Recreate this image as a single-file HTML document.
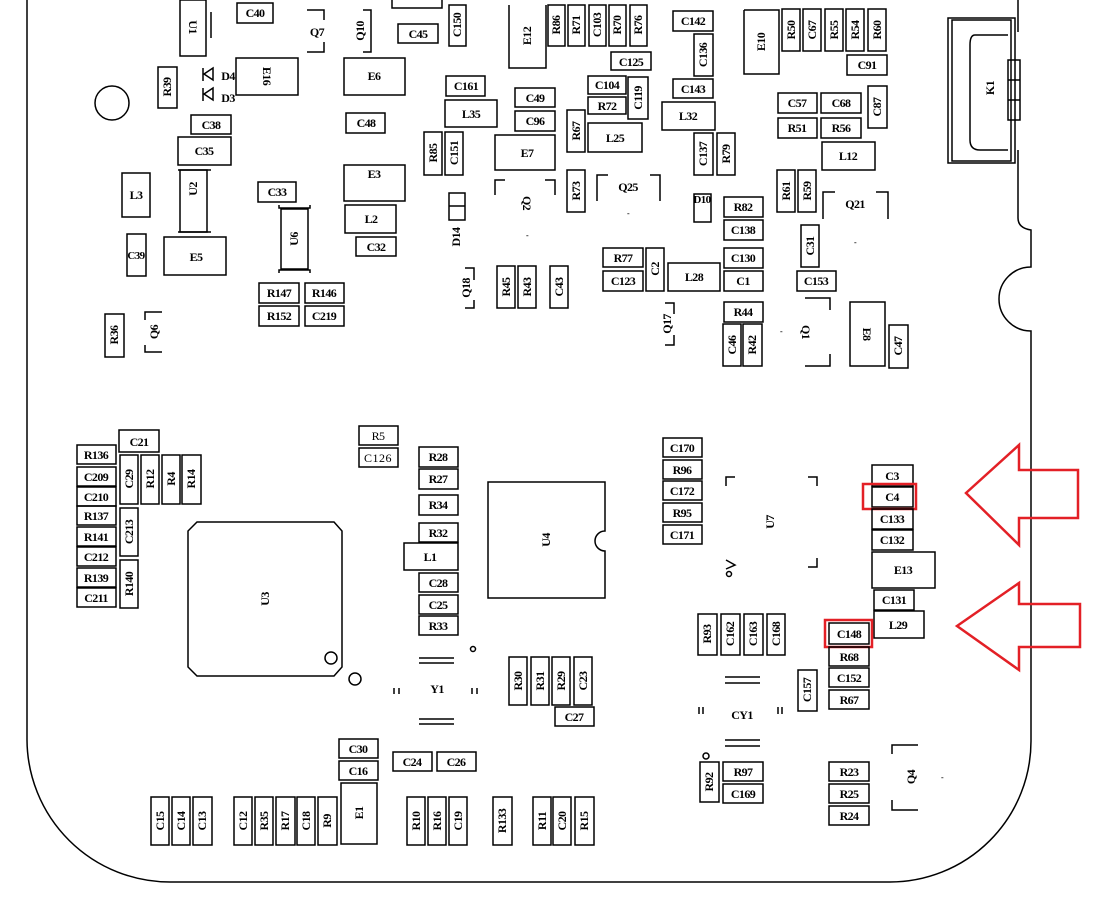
<!DOCTYPE html>
<html><head><meta charset="utf-8"><style>
html,body{margin:0;padding:0;background:#fff}
svg{display:block}
rect,path,circle,line,polyline{fill:none;stroke:#000;stroke-width:1.5}
text{font-family:"Liberation Serif",serif;font-size:12px;font-weight:bold;text-anchor:middle;fill:#000;letter-spacing:-0.6px}
.r{stroke:#e32026;stroke-width:2.5}
</style></head><body>
<svg width="1105" height="907" viewBox="0 0 1105 907" xmlns="http://www.w3.org/2000/svg">
<path d="M27 0 V740 A143 143 0 0 0 170 882 H890 A141 141 0 0 0 1031 741 V331 A32 32 0 0 1 1031 267 V230 Q1018 228 1018 218 V150"/>
<path d="M1018 0 V32"/>
<rect x="948" y="18" width="67" height="145"/>
<rect x="952" y="20" width="59" height="141"/>
<path d="M975 35 Q970 35 970 45 V140 Q970 150 980 150 M975 35 H1008 M980 150 H1008"/>
<rect x="1008" y="60" width="12" height="60"/>
<line x1="1008" y1="80" x2="1020" y2="80"/><line x1="1008" y1="100" x2="1020" y2="100"/>
<text transform="translate(990,88) rotate(-90)" y="4">K1</text>

<rect x="180" y="0" width="26" height="56"/><line x1="211" y1="12" x2="211" y2="38"/>
<text transform="translate(193,27) rotate(90)" y="4">U1</text>
<rect x="237" y="3" width="36" height="20"/><text x="255" y="17">C40</text>
<path d="M307 10 H324 V20 M324 42 V52 H307"/><text x="317" y="36">Q7</text>
<path d="M363 10 H371 V52 H363"/><text transform="translate(360,31) rotate(-90)" y="4">Q10</text>
<path d="M392 0 V8 H442 V0"/>
<rect x="398" y="24" width="40" height="19"/><text x="418" y="38">C45</text>
<rect x="449" y="5" width="17" height="41"/><text transform="translate(457,25) rotate(-90)" y="4">C150</text>
<path d="M509 5 V68 H546 V5"/><text transform="translate(527,36) rotate(-90)" y="4">E12</text>
<rect x="548" y="5" width="17" height="41"/><text transform="translate(556,25) rotate(-90)" y="4">R86</text>
<rect x="568" y="5" width="17" height="41"/><text transform="translate(576,25) rotate(-90)" y="4">R71</text>
<rect x="589" y="5" width="17" height="41"/><text transform="translate(597,25) rotate(-90)" y="4">C103</text>
<rect x="609" y="5" width="17" height="41"/><text transform="translate(617,25) rotate(-90)" y="4">R70</text>
<rect x="630" y="5" width="17" height="41"/><text transform="translate(638,25) rotate(-90)" y="4">R76</text>
<rect x="673" y="11" width="40" height="20"/><text x="693" y="25">C142</text>
<rect x="694" y="34" width="19" height="42"/><text transform="translate(703,55) rotate(-90)" y="4">C136</text>
<path d="M744 10 V74 H779 V10 H744"/><text transform="translate(761,42) rotate(-90)" y="4">E10</text>
<rect x="782" y="9" width="18" height="42"/><text transform="translate(791,30) rotate(-90)" y="4">R50</text>
<rect x="803" y="9" width="18" height="42"/><text transform="translate(812,30) rotate(-90)" y="4">C67</text>
<rect x="825" y="9" width="18" height="42"/><text transform="translate(834,30) rotate(-90)" y="4">R55</text>
<rect x="846" y="9" width="18" height="42"/><text transform="translate(855,30) rotate(-90)" y="4">R54</text>
<rect x="868" y="9" width="18" height="42"/><text transform="translate(877,30) rotate(-90)" y="4">R60</text>
<rect x="847" y="55" width="40" height="20"/><text x="867" y="69">C91</text>

<rect x="158" y="67" width="19" height="41"/><text transform="translate(167,87) rotate(-90)" y="4">R39</text>
<path d="M203 68 V81 M213 68 L204 74 L213 80 Z"/><text x="228" y="80">D4</text>
<path d="M203 88 V101 M213 88 L204 94 L213 100 Z"/><text x="228" y="102">D3</text>
<rect x="236" y="58" width="62" height="37"/><text transform="translate(267,76) rotate(90)" y="4">E16</text>
<rect x="344" y="58" width="61" height="37"/><text x="374" y="80">E6</text>
<circle cx="112" cy="103" r="17"/>
<rect x="191" y="115" width="40" height="19"/><text x="211" y="129">C38</text>
<rect x="178" y="137" width="53" height="28"/><text x="204" y="155">C35</text>
<rect x="346" y="113" width="39" height="20"/><text x="366" y="127">C48</text>
<rect x="446" y="76" width="39" height="20"/><text x="466" y="90">C161</text>
<rect x="445" y="100" width="52" height="27"/><text x="471" y="118">L35</text>
<rect x="515" y="88" width="40" height="19"/><text x="535" y="102">C49</text>
<rect x="515" y="111" width="40" height="20"/><text x="535" y="125">C96</text>
<rect x="424" y="132" width="18" height="43"/><text transform="translate(433,153) rotate(-90)" y="4">R85</text>
<rect x="445" y="132" width="18" height="43"/><text transform="translate(454,153) rotate(-90)" y="4">C151</text>
<rect x="495" y="135" width="60" height="35"/><text x="527" y="157">E7</text>
<rect x="611" y="52" width="40" height="18"/><text x="631" y="66">C125</text>
<rect x="588" y="76" width="38" height="18"/><text x="607" y="89">C104</text>
<rect x="628" y="77" width="20" height="42"/><text transform="translate(638,98) rotate(-90)" y="4">C119</text>
<rect x="588" y="97" width="38" height="17"/><text x="607" y="110">R72</text>
<rect x="567" y="110" width="18" height="42"/><text transform="translate(576,131) rotate(-90)" y="4">R67</text>
<rect x="588" y="123" width="54" height="29"/><text x="615" y="142">L25</text>
<rect x="673" y="79" width="40" height="19"/><text x="693" y="93">C143</text>
<rect x="662" y="102" width="53" height="28"/><text x="688" y="120">L32</text>
<rect x="694" y="133" width="19" height="42"/><text transform="translate(703,154) rotate(-90)" y="4">C137</text>
<rect x="717" y="133" width="18" height="42"/><text transform="translate(726,154) rotate(-90)" y="4">R79</text>
<rect x="778" y="93" width="39" height="20"/><text x="797" y="107">C57</text>
<rect x="821" y="93" width="40" height="20"/><text x="841" y="107">C68</text>
<rect x="868" y="86" width="19" height="42"/><text transform="translate(877,107) rotate(-90)" y="4">C87</text>
<rect x="778" y="118" width="39" height="20"/><text x="797" y="132">R51</text>
<rect x="821" y="118" width="40" height="20"/><text x="841" y="132">R56</text>
<rect x="822" y="142" width="53" height="28"/><text x="848" y="160">L12</text>

<rect x="122" y="173" width="28" height="44"/><text x="136" y="199">L3</text>
<path d="M178 170 H211 M178 232 H211"/><rect x="180" y="170" width="27" height="62"/><text transform="translate(193,189) rotate(-90)" y="4">U2</text>
<rect x="258" y="182" width="38" height="20"/><text x="277" y="196">C33</text>
<path d="M279 205 V208 H310 V205 M279 273 V270 H310 V273"/><rect x="281" y="209" width="27" height="60"/><text transform="translate(294,239) rotate(-90)" y="4">U6</text>
<rect x="344" y="165" width="61" height="36"/><text x="374" y="178">E3</text>
<rect x="345" y="205" width="51" height="28"/><text x="371" y="223">L2</text>
<rect x="356" y="237" width="40" height="19"/><text x="376" y="251">C32</text>
<rect x="449" y="193" width="16" height="27"/><line x1="449" y1="206" x2="465" y2="206"/><text transform="translate(456,237) rotate(-90)" y="4">D14</text>
<path d="M495 195 V180 H505 M545 180 H555 V195"/><text transform="translate(527,203) rotate(90)" y="4">Q2</text><text x="527" y="238" style="font-size:8px">-</text>
<rect x="567" y="170" width="18" height="42"/><text transform="translate(576,191) rotate(-90)" y="4">R73</text>
<path d="M597 201 V175 H608 M650 175 H660 V201"/><text x="628" y="191">Q25</text><text x="628" y="216" style="font-size:8px">-</text>
<rect x="694" y="194" width="17" height="28"/><text x="702" y="203" style="font-size:11px">D10</text>
<rect x="724" y="197" width="39" height="20"/><text x="743" y="211">R82</text>
<rect x="724" y="220" width="39" height="20"/><text x="743" y="234">C138</text>
<rect x="777" y="170" width="18" height="42"/><text transform="translate(786,191) rotate(-90)" y="4">R61</text>
<rect x="798" y="170" width="18" height="42"/><text transform="translate(807,191) rotate(-90)" y="4">R59</text>
<path d="M823 219 V192 H835 M876 192 H888 V219"/><text x="855" y="208">Q21</text><text x="855" y="245" style="font-size:8px">-</text>
<rect x="127" y="234" width="19" height="42"/><text x="136" y="259" style="font-size:11px">C39</text>
<rect x="164" y="237" width="62" height="38"/><text x="196" y="261">E5</text>
<rect x="801" y="225" width="18" height="42"/><text transform="translate(810,246) rotate(-90)" y="4">C31</text>
<rect x="797" y="271" width="39" height="20"/><text x="816" y="285">C153</text>
<rect x="603" y="248" width="40" height="19"/><text x="623" y="262">R77</text>
<rect x="603" y="271" width="40" height="20"/><text x="623" y="285">C123</text>
<rect x="646" y="248" width="18" height="43"/><text transform="translate(655,269) rotate(-90)" y="4">C2</text>
<rect x="668" y="263" width="52" height="28"/><text x="694" y="281">L28</text>
<rect x="724" y="248" width="39" height="20"/><text x="743" y="262">C130</text>
<rect x="724" y="271" width="39" height="20"/><text x="743" y="285">C1</text>
<rect x="497" y="266" width="18" height="42"/><text transform="translate(506,287) rotate(-90)" y="4">R45</text>
<rect x="518" y="266" width="18" height="42"/><text transform="translate(527,287) rotate(-90)" y="4">R43</text>
<rect x="550" y="266" width="18" height="42"/><text transform="translate(559,287) rotate(-90)" y="4">C43</text>
<path d="M465 268 H474 V280 M474 300 V308 H465"/><text transform="translate(466,288) rotate(-90)" y="4">Q18</text>
<rect x="259" y="283" width="40" height="20"/><text x="279" y="297">R147</text>
<rect x="305" y="283" width="39" height="20"/><text x="324" y="297">R146</text>
<rect x="259" y="306" width="40" height="20"/><text x="279" y="320">R152</text>
<rect x="305" y="306" width="39" height="20"/><text x="324" y="320">C219</text>
<rect x="105" y="314" width="19" height="43"/><text transform="translate(114,335) rotate(-90)" y="4">R36</text>
<path d="M162 312 H145 V320 M145 345 V352 H162"/><text transform="translate(154,332) rotate(-90)" y="4">Q6</text>
<path d="M665 303 H674 V314 M674 335 V345 H665"/><text transform="translate(667,324) rotate(-90)" y="4">Q17</text>
<rect x="724" y="302" width="39" height="20"/><text x="743" y="316">R44</text>
<rect x="723" y="324" width="18" height="42"/><text transform="translate(732,345) rotate(-90)" y="4">C46</text>
<rect x="743" y="324" width="19" height="42"/><text transform="translate(752,345) rotate(-90)" y="4">R42</text>
<path d="M805 298 H830 V310 M830 354 V366 H805"/><text transform="translate(806,332) rotate(90)" y="4">Q1</text><text x="781" y="334" style="font-size:8px">-</text>
<rect x="850" y="302" width="35" height="64"/><text transform="translate(867,334) rotate(90)" y="4">E8</text>
<rect x="889" y="325" width="19" height="43"/><text transform="translate(898,346) rotate(-90)" y="4">C47</text>

<rect x="119" y="430" width="40" height="22"/><text x="139" y="446">C21</text>
<rect x="77" y="445" width="39" height="19"/><text x="96" y="459">R136</text>
<rect x="77" y="467" width="39" height="19"/><text x="96" y="481">C209</text>
<rect x="77" y="487" width="39" height="19"/><text x="96" y="501">C210</text>
<rect x="77" y="506" width="39" height="19"/><text x="96" y="520">R137</text>
<rect x="77" y="527" width="39" height="19"/><text x="96" y="541">R141</text>
<rect x="77" y="547" width="39" height="19"/><text x="96" y="561">C212</text>
<rect x="77" y="568" width="39" height="19"/><text x="96" y="582">R139</text>
<rect x="77" y="588" width="39" height="19"/><text x="96" y="602">C211</text>
<rect x="120" y="455" width="18" height="49"/><text transform="translate(129,479) rotate(-90)" y="4">C29</text>
<rect x="141" y="455" width="18" height="49"/><text transform="translate(150,479) rotate(-90)" y="4">R12</text>
<rect x="162" y="455" width="18" height="49"/><text transform="translate(171,479) rotate(-90)" y="4">R4</text>
<rect x="182" y="455" width="19" height="49"/><text transform="translate(191,479) rotate(-90)" y="4">R14</text>
<rect x="120" y="508" width="18" height="48"/><text transform="translate(129,532) rotate(-90)" y="4">C213</text>
<rect x="120" y="560" width="18" height="48"/><text transform="translate(129,584) rotate(-90)" y="4">R140</text>
<path d="M197 522 H334 L342 531 V667 L334 676 H197 L188 667 V531 Z"/>
<circle cx="331" cy="658" r="6"/><circle cx="355" cy="679" r="6"/>
<text transform="translate(265,599) rotate(-90)" y="4">U3</text>
<rect x="359" y="426" width="39" height="19"/><text x="378" y="440" style="font-weight:normal">R5</text>
<rect x="359" y="448" width="39" height="19"/><text x="378" y="462" style="font-weight:normal;letter-spacing:0.5px">C126</text>
<rect x="419" y="447" width="39" height="20"/><text x="438" y="461">R28</text>
<rect x="419" y="469" width="39" height="20"/><text x="438" y="483">R27</text>
<rect x="419" y="495" width="39" height="20"/><text x="438" y="509">R34</text>
<rect x="419" y="523" width="39" height="19"/><text x="438" y="537">R32</text>
<rect x="404" y="543" width="54" height="27"/><text x="430" y="561">L1</text>
<rect x="419" y="573" width="39" height="19"/><text x="438" y="587">C28</text>
<rect x="419" y="595" width="39" height="19"/><text x="438" y="609">C25</text>
<rect x="419" y="616" width="39" height="19"/><text x="438" y="630">R33</text>
<path d="M488 482 H605 V531 A10 10 0 0 0 605 551 V598 H488 Z"/>
<text transform="translate(546,540) rotate(-90)" y="4">U4</text>
<path d="M419 658 H454 M419 663 H454 M419 719 H454 M419 724 H454 M394 688 V694 M399 688 V694 M472 688 V694 M477 688 V694"/>
<circle cx="473" cy="649" r="2.5"/><text x="437" y="693">Y1</text>
<rect x="509" y="657" width="18" height="48"/><text transform="translate(518,681) rotate(-90)" y="4">R30</text>
<rect x="531" y="657" width="18" height="48"/><text transform="translate(540,681) rotate(-90)" y="4">R31</text>
<rect x="552" y="657" width="18" height="48"/><text transform="translate(561,681) rotate(-90)" y="4">R29</text>
<rect x="574" y="657" width="18" height="48"/><text transform="translate(583,681) rotate(-90)" y="4">C23</text>
<rect x="555" y="707" width="39" height="19"/><text x="574" y="721">C27</text>
<rect x="339" y="739" width="39" height="19"/><text x="358" y="753">C30</text>
<rect x="339" y="761" width="39" height="19"/><text x="358" y="775">C16</text>
<rect x="393" y="752" width="39" height="19"/><text x="412" y="766">C24</text>
<rect x="437" y="752" width="39" height="19"/><text x="456" y="766">C26</text>
<rect x="341" y="783" width="36" height="61"/><text transform="translate(359,813) rotate(-90)" y="4">E1</text>
<rect x="151" y="797" width="18" height="48"/><text transform="translate(160,821) rotate(-90)" y="4">C15</text>
<rect x="172" y="797" width="18" height="48"/><text transform="translate(181,821) rotate(-90)" y="4">C14</text>
<rect x="193" y="797" width="19" height="48"/><text transform="translate(202,821) rotate(-90)" y="4">C13</text>
<rect x="234" y="797" width="18" height="48"/><text transform="translate(243,821) rotate(-90)" y="4">C12</text>
<rect x="255" y="797" width="18" height="48"/><text transform="translate(264,821) rotate(-90)" y="4">R35</text>
<rect x="276" y="797" width="19" height="48"/><text transform="translate(285,821) rotate(-90)" y="4">R17</text>
<rect x="297" y="797" width="18" height="48"/><text transform="translate(306,821) rotate(-90)" y="4">C18</text>
<rect x="318" y="797" width="19" height="48"/><text transform="translate(327,821) rotate(-90)" y="4">R9</text>
<rect x="407" y="797" width="18" height="48"/><text transform="translate(416,821) rotate(-90)" y="4">R10</text>
<rect x="428" y="797" width="18" height="48"/><text transform="translate(437,821) rotate(-90)" y="4">R16</text>
<rect x="449" y="797" width="18" height="48"/><text transform="translate(458,821) rotate(-90)" y="4">C19</text>
<rect x="493" y="797" width="19" height="48"/><text transform="translate(502,821) rotate(-90)" y="4">R133</text>
<rect x="533" y="797" width="18" height="48"/><text transform="translate(542,821) rotate(-90)" y="4">R11</text>
<rect x="553" y="797" width="18" height="48"/><text transform="translate(562,821) rotate(-90)" y="4">C20</text>
<rect x="575" y="797" width="19" height="48"/><text transform="translate(584,821) rotate(-90)" y="4">R15</text>

<rect x="663" y="438" width="39" height="19"/><text x="682" y="452">C170</text>
<rect x="663" y="460" width="39" height="19"/><text x="682" y="474">R96</text>
<rect x="663" y="481" width="39" height="19"/><text x="682" y="495">C172</text>
<rect x="663" y="503" width="39" height="19"/><text x="682" y="517">R95</text>
<rect x="663" y="525" width="39" height="19"/><text x="682" y="539">C171</text>
<path d="M726 486 V477 H735 M808 477 H817 V486 M817 558 V567 H808"/>
<text transform="translate(770,522) rotate(-90)" y="4">U7</text>
<path d="M726 560 L735 565 L726 569"/><circle cx="729" cy="574" r="2.5"/>
<rect x="872" y="465" width="41" height="21"/><text x="892" y="480">C3</text>
<rect x="872" y="487" width="41" height="20"/><text x="892" y="501">C4</text>
<rect class="r" x="863" y="484" width="53" height="25"/>
<rect x="872" y="509" width="41" height="20"/><text x="892" y="523">C133</text>
<rect x="872" y="530" width="41" height="20"/><text x="892" y="544">C132</text>
<rect x="872" y="552" width="63" height="36"/><text x="903" y="574">E13</text>
<rect x="874" y="590" width="40" height="20"/><text x="894" y="604">C131</text>
<rect x="874" y="611" width="50" height="27"/><text x="898" y="629">L29</text>
<rect x="829" y="623" width="40" height="21"/><text x="849" y="638">C148</text>
<rect class="r" x="825" y="620" width="47" height="27"/>
<rect x="829" y="647" width="40" height="19"/><text x="849" y="661">R68</text>
<rect x="829" y="668" width="40" height="19"/><text x="849" y="682">C152</text>
<rect x="829" y="690" width="40" height="19"/><text x="849" y="704">R67</text>
<rect x="798" y="670" width="19" height="41"/><text transform="translate(807,690) rotate(-90)" y="4">C157</text>
<rect x="698" y="614" width="19" height="41"/><text transform="translate(707,634) rotate(-90)" y="4">R93</text>
<rect x="721" y="614" width="19" height="41"/><text transform="translate(730,634) rotate(-90)" y="4">C162</text>
<rect x="744" y="614" width="19" height="41"/><text transform="translate(753,634) rotate(-90)" y="4">C163</text>
<rect x="767" y="614" width="18" height="41"/><text transform="translate(776,634) rotate(-90)" y="4">C168</text>
<path d="M725 677 H760 M725 683 H760 M725 740 H760 M725 746 H760 M699 707 V714 M703 707 V714 M778 707 V714 M782 707 V714"/>
<text x="742" y="719">CY1</text>
<circle cx="706" cy="756" r="3"/>
<rect x="700" y="762" width="19" height="40"/><text transform="translate(709,782) rotate(-90)" y="4">R92</text>
<rect x="723" y="762" width="40" height="19"/><text x="743" y="776">R97</text>
<rect x="723" y="784" width="40" height="19"/><text x="743" y="798">C169</text>
<rect x="829" y="762" width="40" height="19"/><text x="849" y="776">R23</text>
<rect x="829" y="784" width="40" height="19"/><text x="849" y="798">R25</text>
<rect x="829" y="806" width="40" height="19"/><text x="849" y="820">R24</text>
<path d="M892 754 V745 H918 M892 800 V810 H918"/>
<text transform="translate(911,777) rotate(-90)" y="4">Q4</text><text x="942" y="780" style="font-size:8px">-</text>

<path class="r" d="M966 493 L1019 445 V470 H1078 V518 H1019 V545 Z"/>
<path class="r" d="M957 626 L1019 583 V604 H1080 V647 H1019 V670 Z"/>
</svg>
</body></html>
